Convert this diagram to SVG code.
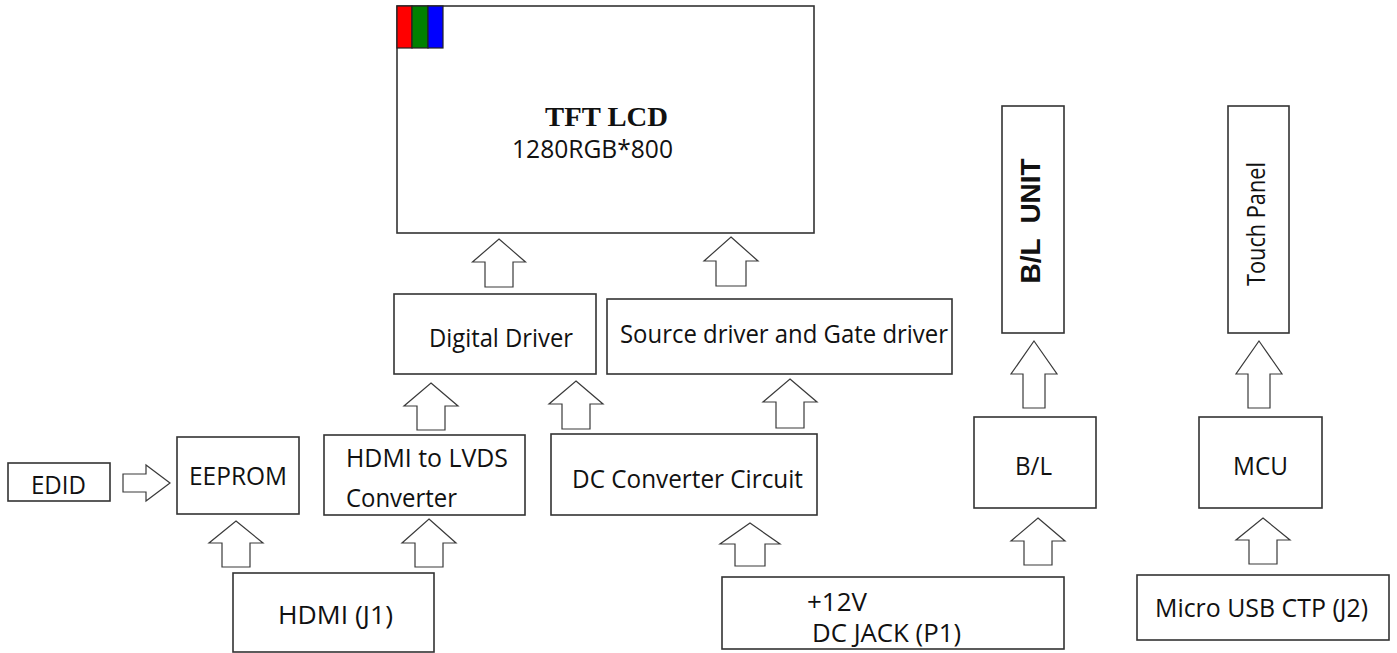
<svg xmlns="http://www.w3.org/2000/svg" width="1397" height="653" viewBox="0 0 1397 653">
<style>
.box{fill:#fff;stroke:#333;stroke-width:1.6}
.arr{fill:#fff;stroke:#3a3a3a;stroke-width:1.2;stroke-linejoin:miter}
.t{font-family:"Open Sans","Noto Sans","DejaVu Sans",sans-serif;font-size:25px;fill:#111}
.tb{font-family:"Liberation Serif","Times New Roman",serif;font-size:28px;font-weight:bold;fill:#111}
.tu{font-family:"Liberation Sans",Arial,sans-serif;font-size:28px;font-weight:bold;fill:#111;white-space:pre}
</style>
<rect width="1397" height="653" fill="#fff"/>
<g id="connectors">
<polygon class="arr" points="499,239 525.5,262 513,262 513,287 485,287 485,262 472.5,262"/>
<polygon class="arr" points="731,237 758,261 746,261 746,286 716,286 716,261 704,261"/>
<polygon class="arr" points="431,383 458,406 445,406 445,430 417,430 417,406 404,406"/>
<polygon class="arr" points="576,381 603,404 590,404 590,429 562,429 562,404 549,404"/>
<polygon class="arr" points="790,379 817,402 804,402 804,428 776,428 776,402 763,402"/>
<polygon class="arr" points="170,483 146,465 146,474 123,474 123,492 146,492 146,501"/>
<polygon class="arr" points="236,521 263,543 250,543 250,567 222,567 222,543 209,543"/>
<polygon class="arr" points="429,519 456,543 443,543 443,567 415,567 415,543 402,543"/>
<polygon class="arr" points="750,523 780,544 765,544 765,566 735,566 735,544 720,544"/>
<polygon class="arr" points="1038,518 1065,541 1052,541 1052,565 1024,565 1024,541 1011,541"/>
<polygon class="arr" points="1034,341 1057,374 1045,374 1045,408 1023,408 1023,374 1011,374"/>
<polygon class="arr" points="1259,341 1282,374 1270,374 1270,408 1248,408 1248,374 1236,374"/>
<polygon class="arr" points="1263,518 1290,540 1277,540 1277,564 1249,564 1249,540 1236,540"/>
</g>
<g id="tft">
<rect class="box" x="397" y="6" width="417" height="227"/>
<rect x="397" y="6" width="15" height="42" fill="#f00" stroke="#222" stroke-width="1.2"/>
<rect x="412" y="6" width="16" height="42" fill="#008000" stroke="#222" stroke-width="1.2"/>
<rect x="428" y="6" width="15" height="42" fill="#00f" stroke="#222" stroke-width="1.2"/>
<text class="tb" x="545" y="126" textLength="123" lengthAdjust="spacingAndGlyphs">TFT LCD</text>
<text class="t" x="512" y="158" font-size="23" textLength="161" lengthAdjust="spacingAndGlyphs">1280RGB*800</text>
</g>
<g id="digital">
<rect class="box" x="394" y="294" width="202" height="80"/>
<text class="t" x="429" y="347" textLength="144" lengthAdjust="spacingAndGlyphs">Digital Driver</text>
</g>
<g id="source">
<rect class="box" x="607" y="299" width="345" height="75"/>
<text class="t" x="620" y="343" textLength="328" lengthAdjust="spacingAndGlyphs">Source driver and Gate driver</text>
</g>
<g id="edid">
<rect class="box" x="8" y="463" width="102" height="38"/>
<text class="t" x="31" y="494" textLength="55" lengthAdjust="spacingAndGlyphs">EDID</text>
</g>
<g id="eeprom">
<rect class="box" x="177" y="437" width="122" height="77"/>
<text class="t" x="189" y="485" textLength="98" lengthAdjust="spacingAndGlyphs">EEPROM</text>
</g>
<g id="hdmi-lvds">
<rect class="box" x="324" y="435" width="201" height="80"/>
<text class="t" x="346" y="467" textLength="162" lengthAdjust="spacingAndGlyphs">HDMI to LVDS</text>
<text class="t" x="346" y="507" textLength="111" lengthAdjust="spacingAndGlyphs">Converter</text>
</g>
<g id="dc-converter">
<rect class="box" x="551" y="434" width="266" height="81"/>
<text class="t" x="572" y="488" textLength="231" lengthAdjust="spacingAndGlyphs">DC Converter Circuit</text>
</g>
<g id="hdmi-j1">
<rect class="box" x="233" y="573" width="201" height="79"/>
<text class="t" x="278" y="624" textLength="115" lengthAdjust="spacingAndGlyphs">HDMI (J1)</text>
</g>
<g id="dc-jack">
<rect class="box" x="722" y="577" width="342" height="72"/>
<text class="t" x="807" y="611" textLength="60" lengthAdjust="spacingAndGlyphs">+12V</text>
<text class="t" x="812" y="642" textLength="149" lengthAdjust="spacingAndGlyphs">DC JACK (P1)</text>
</g>
<g id="bl">
<rect class="box" x="974" y="417" width="122" height="91"/>
<text class="t" x="1015" y="475" textLength="37" lengthAdjust="spacingAndGlyphs">B/L</text>
</g>
<g id="mcu">
<rect class="box" x="1199" y="417" width="123" height="91"/>
<text class="t" x="1233" y="475" textLength="55" lengthAdjust="spacingAndGlyphs">MCU</text>
</g>
<g id="micro-usb">
<rect class="box" x="1137" y="575" width="252" height="65"/>
<text class="t" x="1155" y="617" textLength="213" lengthAdjust="spacingAndGlyphs">Micro USB CTP (J2)</text>
</g>
<g id="bl-unit">
<rect class="box" x="1002" y="106" width="62" height="227"/>
<text class="tu" transform="translate(1040,221) rotate(-90)" text-anchor="middle" textLength="125" lengthAdjust="spacingAndGlyphs">B/L  UNIT</text>
</g>
<g id="touch-panel">
<rect class="box" x="1228" y="106" width="61" height="227"/>
<text class="t" transform="translate(1265,224) rotate(-90)" text-anchor="middle" textLength="124" lengthAdjust="spacingAndGlyphs">Touch Panel</text>
</g>
</svg>
